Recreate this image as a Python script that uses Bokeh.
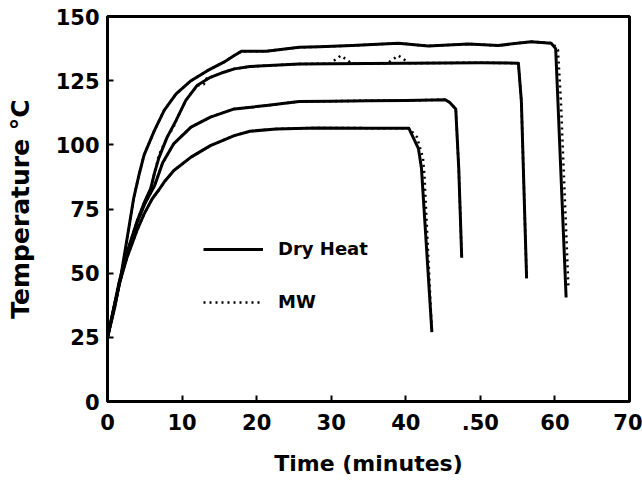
from bokeh.plotting import figure
from bokeh.models import Legend, LegendItem, FixedTicker, Range1d
from bokeh.embed import file_html
from bokeh.resources import INLINE

# ---- data (time in minutes, temperature in °C) ----
dry1_t = [0, 1.0, 1.8, 2.6, 3.5, 4.2, 4.9, 6.3, 7.6, 9.2, 11.2, 13.4, 15.6, 17.0, 18.0, 21.3, 25.7, 28.4, 32.8, 39.0, 43.0, 48.4, 52.4, 56.8, 59.5, 60.1, 60.4, 61.5]
dry1_T = [25, 37, 49, 63, 79, 88, 96, 105.6, 113.4, 119.9, 125, 128.9, 132.2, 134.8, 136.5, 136.5, 138, 138.2, 138.7, 139.6, 138.5, 139.3, 138.7, 140.2, 139.6, 137.5, 117, 40.5]
mw1_t = [0, 1.0, 1.8, 2.6, 3.5, 4.2, 4.9, 6.3, 7.6, 9.2, 11.2, 13.4, 15.6, 17.0, 18.0, 21.3, 25.7, 28.4, 32.8, 39.0, 43.0, 48.4, 52.4, 56.8, 59.7, 60.4, 60.8, 61.8]
mw1_T = [25, 37, 49, 63, 79, 88, 96, 105.6, 113.4, 119.9, 125, 128.9, 132.2, 134.8, 136.5, 136.5, 138, 138.2, 138.7, 139.6, 138.5, 139.3, 138.7, 140.2, 139.6, 137, 117, 45]

dry2_t = [0, 1.6, 2.6, 4.0, 5.0, 5.8, 6.3, 6.9, 8.0, 9.2, 10.5, 12.0, 13.8, 15.6, 17.0, 19.1, 25.7, 30, 40, 50, 55.1, 55.5, 56.2]
dry2_T = [25, 47, 58, 70.5, 78, 83, 89, 95, 103, 109.5, 117.3, 123.1, 126.3, 128.3, 129.6, 130.5, 131.5, 131.6, 131.8, 132, 131.8, 117, 48]
mw2_t = [0, 1.6, 2.6, 4.0, 5.0, 5.8, 6.3, 6.9, 8.0, 8.8, 9.2, 10.5, 12.0, 12.9, 13.4, 13.8, 15.6, 17.0, 19.1, 25.7, 29.8, 31.3, 32.8, 37.5, 39.0, 40.5, 50, 55.1, 55.5, 56.2]
mw2_T = [25, 47, 58, 70.5, 78, 83, 89, 96, 103, 106.5, 109.5, 117.3, 123.1, 123.5, 126.5, 126.3, 128.3, 129.6, 130.5, 131.5, 131.6, 134.8, 131.6, 131.7, 134.8, 131.8, 132, 131.8, 117, 48]

dry3_t = [0, 1.6, 2.6, 4.0, 5.0, 6.3, 7.4, 8.9, 11.2, 13.8, 17.0, 21.3, 25.7, 30, 35, 40, 45.3, 45.9, 46.7, 47.1, 47.5]
dry3_T = [25, 46, 57, 70, 77, 84, 93, 100.5, 106.9, 110.8, 114, 115.3, 116.9, 117, 117.2, 117.3, 117.6, 116.5, 114, 91, 56]
mw3_t = [0, 1.6, 2.6, 4.0, 5.0, 6.3, 7.4, 8.9, 11.2, 13.8, 17.0, 21.3, 25.7, 30, 35, 40, 45.3, 45.9, 46.7, 47.1, 47.5]
mw3_T = [25, 46, 57, 70, 77, 84, 93, 100.5, 106.9, 110.8, 114, 115.3, 116.9, 117, 117.2, 117.3, 117.6, 116.5, 114, 91, 56]

dry4_t = [0, 1.6, 2.6, 4.0, 4.9, 6.0, 6.9, 7.6, 8.9, 11.2, 13.8, 17.0, 19.1, 22.6, 28.0, 35, 40.4, 41.7, 42.1, 43.5]
dry4_T = [25, 46, 56, 67, 73, 79, 82.5, 85.5, 90, 95.2, 99.7, 103.6, 105.3, 106.2, 106.6, 106.5, 106.5, 98.5, 91, 27]
mw4_t = [0, 1.6, 2.6, 4.0, 4.9, 6.0, 6.9, 7.6, 8.9, 11.2, 13.8, 17.0, 19.1, 22.6, 28.0, 35, 40.4, 41.5, 42.3, 42.5, 43.5]
mw4_T = [25, 46, 56, 67, 73, 79, 82.5, 85.5, 90, 95.2, 99.7, 103.6, 105.3, 106.2, 106.6, 106.5, 106.5, 103, 95, 88, 27]

x_ticks = [0, 10, 20, 30, 40, 50, 60, 70]
x_tick_labels = ["0", "10", "20", "30", "40", ".50", "60", "70"]
y_ticks = [0, 25, 50, 75, 100, 125, 150]

FONT = "DejaVu Sans"

p = figure(width=642, height=491, output_backend="svg", toolbar_location=None,
           x_range=Range1d(0, 70), y_range=Range1d(0, 150),
           min_border_left=107, min_border_right=13, min_border_top=16, min_border_bottom=90,
           background_fill_color="white", border_fill_color="white")

p.xgrid.visible = False
p.ygrid.visible = False
p.outline_line_color = "black"
p.outline_line_width = 3

for ax in (p.xaxis[0], p.yaxis[0]):
    ax.axis_line_width = 3
    ax.axis_line_color = "black"
    ax.major_tick_in = 6
    ax.major_tick_out = 0
    ax.major_tick_line_width = 2
    ax.minor_tick_line_color = None
    ax.major_label_text_font = FONT
    ax.major_label_text_font_style = "bold"
    ax.major_label_text_font_size = "21px"
    ax.major_label_text_color = "black"
    ax.axis_label_text_font = FONT
    ax.axis_label_text_font_style = "bold"
    ax.axis_label_text_color = "black"

p.xaxis.axis_label_text_font_size = "22px"
p.yaxis.axis_label_text_font_size = "25px"
p.xaxis.ticker = FixedTicker(ticks=x_ticks)
p.yaxis.ticker = FixedTicker(ticks=y_ticks)
p.xaxis.major_label_overrides = {t: l for t, l in zip(x_ticks, x_tick_labels)}
p.xaxis.axis_label = "Time (minutes)"
p.yaxis.axis_label = "Temperature °C"
p.xaxis.major_label_standoff = 12
p.yaxis.major_label_standoff = 8
p.xaxis.axis_label_standoff = 18
p.yaxis.axis_label_standoff = 18

dry_renderers = []
mw_renderers = []
for (dt, dT, mt, mT) in [(dry1_t, dry1_T, mw1_t, mw1_T), (dry2_t, dry2_T, mw2_t, mw2_T),
                         (dry3_t, dry3_T, mw3_t, mw3_T), (dry4_t, dry4_T, mw4_t, mw4_T)]:
    r = p.line(dt, dT, line_color="black", line_width=3, line_join="round")
    dry_renderers.append(r)
    m = p.line(mt, mT, line_color="black", line_width=2.5, line_dash="2 4")
    mw_renderers.append(m)

legend = Legend(items=[LegendItem(label="Dry Heat", renderers=[dry_renderers[0]]),
                       LegendItem(label="MW", renderers=[mw_renderers[0]])],
                location=(96, 89))
legend.label_text_font = FONT
legend.label_text_font_style = "bold"
legend.label_text_font_size = "18px"
legend.label_text_color = "black"
legend.glyph_width = 60
legend.glyph_height = 20
legend.label_height = 20
legend.spacing = 32
legend.label_standoff = 15
legend.padding = 0
legend.margin = 0
legend.border_line_color = None
legend.background_fill_alpha = 0
p.add_layout(legend)

open("out.html", "w").write(file_html(p, INLINE))
